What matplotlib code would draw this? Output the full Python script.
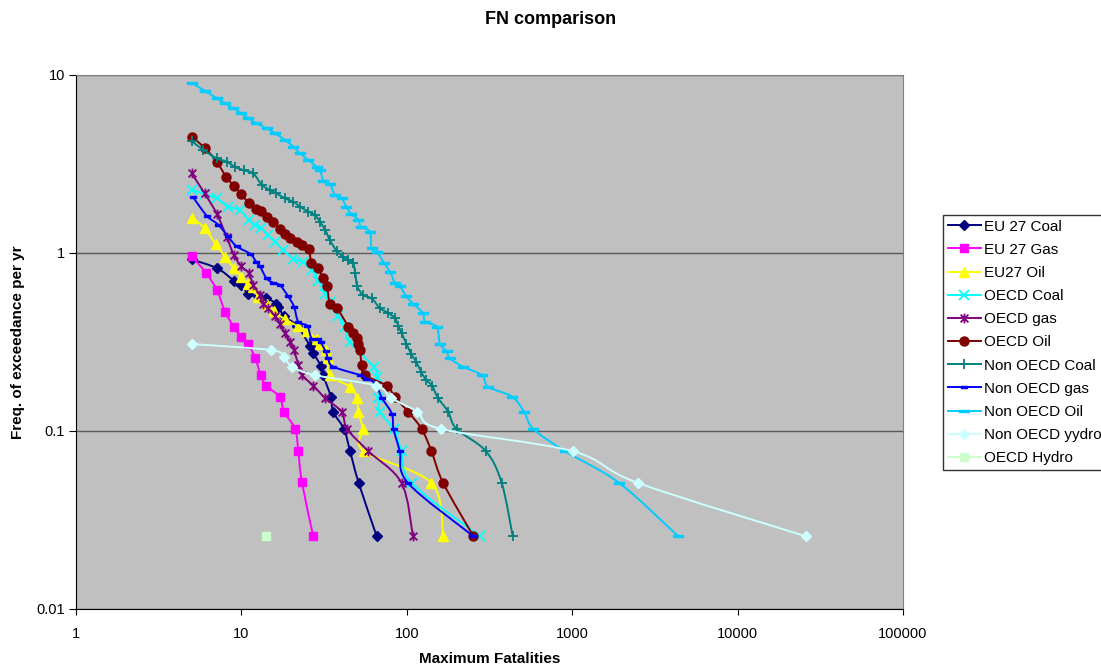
import numpy as np
import matplotlib
matplotlib.use("Agg")
import matplotlib.pyplot as plt
from matplotlib.path import Path
from matplotlib.patches import PathPatch
from matplotlib.lines import Line2D
from matplotlib.ticker import FixedLocator, FixedFormatter, NullLocator

plt.rcParams['font.family'] = ['Liberation Sans', 'DejaVu Sans']

# ---- data (fatalities, frequency of exceedance per yr) ----
eu27_coal_x = [5, 7.15, 9, 10, 11, 12.6, 14.1, 16.3, 16.7, 18.2, 21.7, 26, 27.2, 30.2, 31.2,
               34.7, 35.9, 41.7, 45.4, 51.2, 65.8]
eu27_coal_y = [0.92, 0.82, 0.70, 0.66, 0.59, 0.57, 0.56, 0.52, 0.50, 0.44, 0.39, 0.30, 0.275,
               0.232, 0.206, 0.156, 0.128, 0.1026, 0.077, 0.051, 0.0256]

eu27_gas_x = [5, 6.1, 7.1, 8, 9, 10, 11, 12.1, 13.1, 14.1, 17.1, 18.1, 21.1, 22.1, 23.2, 27.2]
eu27_gas_y = [0.96, 0.775, 0.62, 0.465, 0.385, 0.336, 0.308, 0.258, 0.206, 0.18, 0.155, 0.128,
              0.103, 0.077, 0.0517, 0.0256]

eu27_oil_x = [5, 6, 7, 8, 9, 10, 11, 11.8, 12.6, 14.2, 15.7, 18.3, 21.9, 24.8, 28.5, 29.9,
              32.3, 33.4, 34.2, 45.4, 49.8, 50.9, 54.2, 55, 141, 166]
eu27_oil_y = [1.58, 1.38, 1.12, 0.95, 0.82, 0.735, 0.67, 0.64, 0.566, 0.518, 0.47, 0.425, 0.389,
              0.364, 0.33, 0.31, 0.285, 0.256, 0.206, 0.177, 0.154, 0.128, 0.1026, 0.077, 0.051,
              0.0256]

oecd_coal_x = [5, 6, 7.1, 8.3, 9.8, 11.1, 12.1, 13.1, 14.4, 16, 17.9, 20.6, 23.6, 26.6, 29.2,
               32.1, 34.3, 38.4, 42.4, 45.4, 63, 65.9, 67.4, 68.8, 83.1, 93, 107, 277]
oecd_coal_y = [2.27, 2.14, 2.03, 1.82, 1.74, 1.53, 1.43, 1.38, 1.27, 1.16, 1.04, 0.93, 0.89,
               0.80, 0.70, 0.59, 0.53, 0.44, 0.385, 0.315, 0.23, 0.20, 0.154, 0.128, 0.1026,
               0.077, 0.051, 0.0256]

oecd_gas_x = [5, 6, 7.1, 8.15, 9, 10, 11.1, 11.8, 12.9, 13.5, 14.5, 16, 17.1, 18.3, 19.7, 20.8,
              22.1, 23.2, 27.2, 32.1, 40.4, 43.6, 58.6, 93, 109]
oecd_gas_y = [2.80, 2.16, 1.66, 1.23, 0.975, 0.84, 0.77, 0.66, 0.58, 0.52, 0.49, 0.44, 0.40,
              0.354, 0.318, 0.285, 0.235, 0.206, 0.18, 0.153, 0.128, 0.1026, 0.077, 0.051, 0.0256]

oecd_oil_x = [5, 6, 7.1, 8.06, 9.03, 10, 11.05, 12.2, 13.05, 14.2, 15.6, 17.2, 18.3, 19.8, 21.7,
              23.2, 25.6, 26.5, 29.1, 31.2, 32.9, 34.3, 37.8, 44.4, 47, 49.8, 50.9, 52.1, 53.3,
              55.7, 75.4, 85, 102, 123, 141, 166, 253]
oecd_oil_y = [4.5, 3.9, 3.26, 2.69, 2.38, 2.14, 1.91, 1.77, 1.72, 1.60, 1.49, 1.36, 1.28, 1.21,
              1.15, 1.11, 1.05, 0.875, 0.82, 0.72, 0.65, 0.52, 0.49, 0.385, 0.357, 0.335, 0.31,
              0.285, 0.235, 0.206, 0.18, 0.155, 0.128, 0.1026, 0.077, 0.051, 0.0256]

non_coal_x = [5, 5.9, 7.1, 8.15, 9.1, 10.3, 11.8, 13.3, 14.9, 16.3, 18.3, 20.6, 22.6, 25.4,
              27.9, 29.9, 32.1, 34.3, 37.6, 41.3, 44.1, 47.4, 48.8, 50.2, 54.5, 61.3, 68.8, 77.3,
              84.9, 88.9, 93.1, 99.4, 106.5, 114, 122, 131, 142, 154, 178, 200, 301, 375, 437]
non_coal_y = [4.26, 3.79, 3.40, 3.26, 3.05, 2.92, 2.80, 2.41, 2.26, 2.16, 2.03, 1.94, 1.82,
              1.71, 1.63, 1.49, 1.35, 1.18, 1.03, 0.95, 0.91, 0.875, 0.77, 0.65, 0.58, 0.556,
              0.49, 0.46, 0.43, 0.39, 0.354, 0.31, 0.27, 0.245, 0.215, 0.193, 0.18, 0.154, 0.128,
              0.1026, 0.077, 0.051, 0.0256]

non_gas_x = [5.1, 6.17, 7.25, 8.3, 9.35, 11.3, 12.3, 12.95, 14.2, 15.6, 17.1, 19.2, 20.8, 22.1,
             25, 26.6, 29.2, 30.1, 32.3, 33.4, 35.9, 52.1, 57, 65, 70.5, 81.2, 83.1, 90.7, 101.7,
             253]
non_gas_y = [2.06, 1.62, 1.44, 1.24, 1.09, 0.99, 0.89, 0.84, 0.72, 0.68, 0.66, 0.57, 0.50, 0.41,
             0.39, 0.33, 0.33, 0.316, 0.28, 0.256, 0.23, 0.206, 0.197, 0.184, 0.154, 0.125,
             0.1026, 0.077, 0.051, 0.0256]

non_oil_x = [5, 6, 7.1, 7.95, 8.95, 10, 11, 12.3, 14.2, 16, 18.3, 20.6, 22.6, 25.4, 28.5, 29.9,
             31.3, 34.3, 36.8, 40.4, 43, 46, 50.9, 52.8, 59.8, 61.2, 66.3, 72.7, 79.4, 85, 90.7,
             99.5, 109, 125, 129, 151.6, 158.6, 174, 182, 218, 284, 311, 433, 512, 583, 906,
             1927, 4375]
non_oil_y = [9.05, 8.16, 7.40, 6.93, 6.49, 6.09, 5.71, 5.35, 5.02, 4.70, 4.32, 3.96, 3.63, 3.33,
             3.05, 2.92, 2.55, 2.44, 2.12, 2.03, 1.82, 1.66, 1.54, 1.40, 1.32, 1.07, 1.01, 0.88,
             0.78, 0.675, 0.65, 0.57, 0.52, 0.46, 0.41, 0.385, 0.31, 0.28, 0.256, 0.23, 0.206,
             0.177, 0.156, 0.128, 0.1026, 0.077, 0.051, 0.0256]

non_hydro_x = [5, 15, 18.1, 20.2, 27.8, 65, 80, 116, 161, 1008, 2507, 25910]
non_hydro_y = [0.308, 0.285, 0.26, 0.23, 0.206, 0.18, 0.154, 0.128, 0.1026, 0.077, 0.051, 0.0256]

oecd_hydro_x = [14.1]
oecd_hydro_y = [0.0256]

labels = ['EU 27 Coal', 'EU 27 Gas', 'EU27 Oil', 'OECD Coal', 'OECD gas', 'OECD Oil',
          'Non OECD Coal', 'Non OECD gas', 'Non OECD Oil', 'Non OECD yydro', 'OECD Hydro']

# custom Excel-like markers
star = Path([(0, -1), (0, 1), (-0.8, -0.8), (0.8, 0.8), (-0.8, 0.8), (0.8, -0.8)],
            [Path.MOVETO, Path.LINETO, Path.MOVETO, Path.LINETO, Path.MOVETO, Path.LINETO])
dash = [(-1, -0.3), (1, -0.3), (1, 0.3), (-1, 0.3), (-1, -0.3)]

series = [
    (eu27_coal_x, eu27_coal_y, '#000080', dict(marker='D', ms=5.5)),
    (eu27_gas_x, eu27_gas_y, '#FF00FF', dict(marker='s', ms=6)),
    (eu27_oil_x, eu27_oil_y, '#FFFF00', dict(marker='^', ms=7)),
    (oecd_coal_x, oecd_coal_y, '#00FFFF', dict(marker='x', ms=6.5, mew=1.3)),
    (oecd_gas_x, oecd_gas_y, '#800080', dict(marker=star, ms=7, mew=1.3)),
    (oecd_oil_x, oecd_oil_y, '#800000', dict(marker='o', ms=6.5)),
    (non_coal_x, non_coal_y, '#008080', dict(marker='+', ms=7, mew=1.3)),
    (non_gas_x, non_gas_y, '#0000FF', dict(marker=dash, ms=5)),
    (non_oil_x, non_oil_y, '#00CCFF', dict(marker=dash, ms=7)),
    (non_hydro_x, non_hydro_y, '#CCFFFF', dict(marker='D', ms=5.5)),
    (oecd_hydro_x, oecd_hydro_y, '#CCFFCC', dict(marker='s', ms=6)),
]


def smooth_path(xs, ys):
    # Excel style smoothed line: cubic Bezier through the points in log space
    pts = np.column_stack([np.log10(xs), np.log10(ys)])
    n = len(pts)
    verts = [pts[0]]
    codes = [Path.MOVETO]
    for i in range(n - 1):
        p0 = pts[i - 1] if i > 0 else pts[i]
        p1 = pts[i]
        p2 = pts[i + 1]
        p3 = pts[i + 2] if i + 2 < n else pts[i + 1]
        verts += [p1 + (p2 - p0) / 6, p2 - (p3 - p1) / 6, p2]
        codes += [Path.CURVE4] * 3
    return Path(10 ** np.array(verts), codes)


fig = plt.figure(figsize=(11.01, 6.66), dpi=100)
ax = fig.add_axes([76 / 1101, 1 - 609 / 666, 827 / 1101, 534 / 666])
ax.set_xscale('log')
ax.set_yscale('log')
ax.set_xlim(1, 1e5)
ax.set_ylim(0.01, 10)
ax.set_facecolor('#C0C0C0')

handles = []
for z, (xs, ys, col, mk) in enumerate(series):
    if len(xs) > 1:
        ax.add_patch(PathPatch(smooth_path(xs, ys), fill=False, edgecolor=col, lw=1.4,
                               zorder=3 + z * 0.1))
    ax.plot(xs, ys, ls='none', color=col, mfc=col, mec=col, zorder=3.05 + z * 0.1, **mk)
    handles.append(Line2D([], [], color=col, lw=1.4, mfc=col, mec=col, **mk))

for s in ['top', 'right']:
    ax.spines[s].set_color('#808080')
for s in ['bottom', 'left']:
    ax.spines[s].set_color('#000000')

ax.xaxis.set_major_locator(FixedLocator([1, 10, 100, 1000, 10000, 100000]))
ax.xaxis.set_major_formatter(FixedFormatter(['1', '10', '100', '1000', '10000', '100000']))
ax.yaxis.set_major_locator(FixedLocator([0.01, 0.1, 1, 10]))
ax.yaxis.set_major_formatter(FixedFormatter(['0.01', '0.1', '1', '10']))
ax.xaxis.set_minor_locator(NullLocator())
ax.yaxis.set_minor_locator(NullLocator())
ax.tick_params(axis='x', direction='out', length=4, pad=9, labelsize=10.5)
ax.tick_params(axis='y', direction='out', length=5, pad=3, labelsize=10.5)
ax.grid(axis='y', color='#5a5a5a', lw=1.0, zorder=1)
ax.set_axisbelow(True)

ax.set_xlabel('Maximum Fatalities', fontsize=11, fontweight='bold', labelpad=8)
ax.set_ylabel('Freq. of exceedance per yr', fontsize=11, fontweight='bold', labelpad=8)
fig.text(0.5, 1 - 20 / 666, 'FN comparison', ha='center', va='center', fontsize=13,
         fontweight='bold')

leg = fig.legend(handles, labels, loc='upper left', bbox_to_anchor=(943 / 1101, 1 - 215 / 666),
                 borderaxespad=0, fontsize=11, frameon=True, fancybox=False, numpoints=1,
                 handlelength=2.2, handletextpad=0.2, labelspacing=0.6, borderpad=0.3)
leg.get_frame().set_edgecolor('black')
leg.get_frame().set_linewidth(1.0)

fig.savefig('out.png', dpi=100)
